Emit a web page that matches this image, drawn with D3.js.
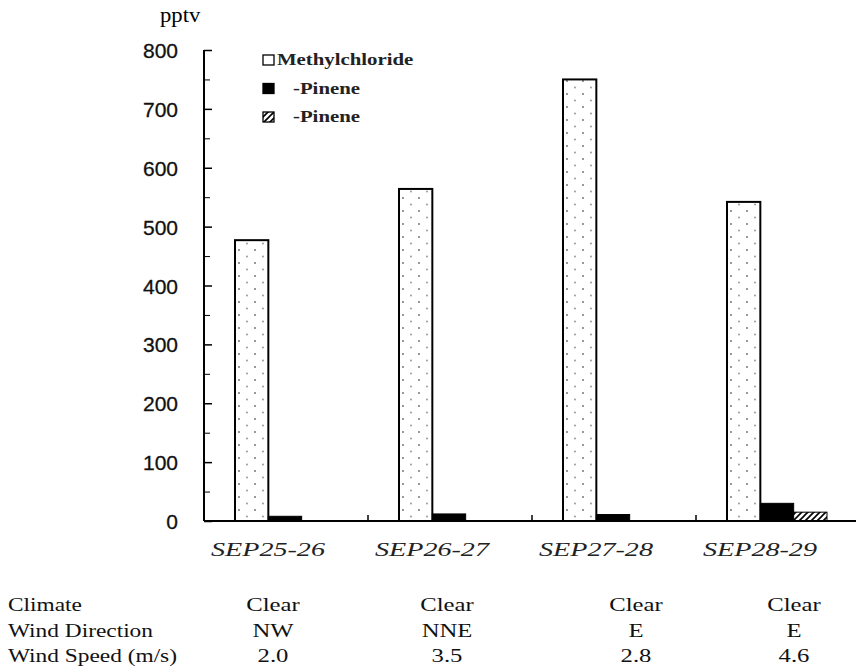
<!DOCTYPE html>
<html>
<head>
<meta charset="utf-8">
<script src="https://cdn.jsdelivr.net/npm/d3@7"></script>
<style>
  body { margin: 0; background: #fff; }
  svg { display: block; }
</style>
</head>
<body>
<div id="chart"></div>
<script>
  // categories and series
  var periods = ['SEP25-26', 'SEP26-27', 'SEP27-28', 'SEP28-29']
  var seriesNames = ['Methylchloride', '-Pinene', '-Pinene ']
  var methylchloride = [477, 564, 750, 542]
  var alphaPinene = [8, 12, 11, 30]
  var betaPinene = [0, 0, 0, 15]
  var yTicks = [0, 100, 200, 300, 400, 500, 600, 700, 800]

  var tableRows = ['Climate', 'Wind Direction', 'Wind Speed (m/s)']
  var climate = ['Clear', 'Clear', 'Clear', 'Clear']
  var windDir = ['NW', 'NNE', 'E', 'E']
  var windSpeed = ['2.0', '3.5', '2.8', '4.6']

  var serif = "'Liberation Serif'"
  var sans = "'Liberation Sans'"

  var width = 856
  var height = 669
  var margin = { top: 50, left: 204, bottom: 148 }

  var svg = d3.select('#chart').append('svg')
              .attr('width', width)
              .attr('height', height)

  // the scanned text is stretched sideways, so scale it in x
  function stretched (sel, x, y, sx) {
    return sel.attr('transform', function (d, i) {
      var xx = typeof x === 'function' ? x(d, i) : x
      var yy = typeof y === 'function' ? y(d, i) : y
      return 'translate(' + xx + ',' + yy + ') scale(' + sx + ',1)'
    })
  }

  var defs = svg.append('defs')
  var dots = defs.append('pattern')
                 .attr('id', 'dots')
                 .attr('patternUnits', 'userSpaceOnUse')
                 .attr('width', 16).attr('height', 13)
  dots.append('rect').attr('width', 16).attr('height', 13).attr('fill', '#fff')
  dots.append('circle').attr('cx', 3).attr('cy', 3).attr('r', 1).attr('fill', '#777')
  dots.append('circle').attr('cx', 11).attr('cy', 9.5).attr('r', 1).attr('fill', '#999')

  var hatch = defs.append('pattern')
                  .attr('id', 'hatch')
                  .attr('patternUnits', 'userSpaceOnUse')
                  .attr('width', 6).attr('height', 6)
  hatch.append('rect').attr('width', 6).attr('height', 6).attr('fill', '#fff')
  hatch.append('path').attr('d', 'M0,6 L6,0 M-1,1 L1,-1 M5,7 L7,5')
       .attr('stroke', '#000').attr('stroke-width', 1.6)

  var fills = ['url(#dots)', '#000', 'url(#hatch)']

  var yScale = d3.scaleLinear().domain([0, 800]).range([height - margin.bottom, margin.top])
  var x0 = d3.scaleBand().domain(periods).range([margin.left, 860])
  var x1 = d3.scaleBand().domain(seriesNames).range([31, 131])

  var data = periods.map(function (p, i) {
    return { period: p, values: [methylchloride[i], alphaPinene[i], betaPinene[i]] }
  })

  // bars
  var groups = svg.append('g').classed('bars', true).selectAll('g')
                  .data(data)
                  .enter()
                  .append('g')
                  .attr('transform', function (d) { return 'translate(' + x0(d.period) + ',0)' })

  groups.selectAll('rect')
        .data(function (d) { return d.values.map(function (v, j) { return { key: seriesNames[j], value: v, j: j } }) })
        .enter()
        .append('rect')
        .attr('x', function (d) { return x1(d.key) })
        .attr('width', x1.bandwidth())
        .attr('y', function (d) { return yScale(d.value) })
        .attr('height', function (d) { return yScale(0) - yScale(d.value) })
        .attr('fill', function (d) { return fills[d.j] })
        .attr('stroke', function (d) { return d.value > 0 ? '#000' : 'none' })
        .attr('stroke-width', function (d) { return d.j === 0 ? 2 : 1 })

  // y axis with inward ticks
  var yAxis = d3.axisRight(yScale).tickValues(yTicks).tickSize(8).tickFormat('')
  var yMinor = d3.axisRight(yScale).tickValues(d3.range(50, 800, 100)).tickSize(6).tickFormat('')
  svg.append('g').attr('transform', 'translate(' + margin.left + ',0)').call(yAxis)
     .call(function (g) { g.select('.domain').attr('d', 'M0,' + yScale(800) + 'V' + yScale(0)).attr('stroke-width', 2) })
     .selectAll('.tick line').attr('stroke-width', 1.5)
  svg.append('g').attr('transform', 'translate(' + margin.left + ',0)').call(yMinor)
     .call(function (g) { g.select('.domain').remove() })

  svg.append('g').selectAll('text')
     .data(yTicks)
     .enter()
     .append('text')
     .attr('x', 178)
     .attr('y', function (d) { return yScale(d) + 8 })
     .attr('text-anchor', 'end')
     .style('font-family', sans)
     .attr('font-size', 21)
     .attr('fill', '#111')
     .attr('stroke', '#111')
     .attr('stroke-width', 0.3)
     .text(function (d) { return d })

  stretched(svg.append('text'), 160, 22, 1.08)
     .style('font-family', serif)
     .attr('font-size', 21)
     .text('pptv')

  // x axis
  var xAxis = d3.axisTop(x0).tickSize(0).tickFormat('')
  svg.append('g').attr('transform', 'translate(0,' + yScale(0) + ')').call(xAxis)
     .call(function (g) { g.select('.domain').attr('d', 'M' + margin.left + ',0H856').attr('stroke-width', 2) })
  svg.append('g').selectAll('line')
     .data(periods.slice(1))
     .enter()
     .append('line')
     .attr('x1', function (d) { return x0(d) })
     .attr('x2', function (d) { return x0(d) })
     .attr('y1', yScale(0))
     .attr('y2', yScale(0) - 6)
     .attr('stroke', '#000')
     .attr('stroke-width', 1.5)

  stretched(svg.append('g').selectAll('text')
     .data(periods)
     .enter()
     .append('text'), function (d) { return x0(d) + 64 }, 556, 1.48)
     .attr('text-anchor', 'middle')
     .style('font-family', serif)
     .style('font-style', 'italic')
     .attr('font-size', 19)
     .attr('fill', '#222')
     .text(function (d) { return d })

  // legend
  var legend = svg.append('g').attr('transform', 'translate(263,60)')
  var legendFills = ['#fff', '#000', 'url(#hatch)']
  var legendRows = legend.selectAll('g')
                         .data(seriesNames)
                         .enter()
                         .append('g')
                         .attr('transform', function (d, i) { return 'translate(0,' + (i * 28.5) + ')' })
  legendRows.append('rect')
            .attr('x', 0).attr('y', -5)
            .attr('width', 11).attr('height', 10)
            .attr('fill', function (d, i) { return legendFills[i] })
            .attr('stroke', '#000')
            .attr('stroke-width', 1.3)
  stretched(legendRows.append('text'), function (d, i) { return i === 0 ? 14 : 30 }, 5, 1.3)
            .style('font-family', serif)
            .style('font-weight', 'bold')
            .attr('font-size', 16)
            .attr('fill', '#222')
            .text(function (d) { return d.trim() })

  // bottom table
  var colX = [273, 447, 636, 794]
  var rowY = [611, 637, 662]
  var table = svg.append('g')
                 .attr('font-size', 19)
                 .attr('fill', '#111')
  stretched(table.selectAll('text.rowname')
       .data(tableRows)
       .enter()
       .append('text')
       .classed('rowname', true), 8, function (d, i) { return rowY[i] }, 1.23)
       .style('font-family', serif)
       .text(function (d) { return d })

  ;[climate, windDir, windSpeed].forEach(function (row, r) {
    stretched(table.append('g').selectAll('text')
         .data(row)
         .enter()
         .append('text'), function (d, i) { return colX[i] }, rowY[r], 1.3)
         .attr('text-anchor', 'middle')
         .style('font-family', serif)
         .text(function (d) { return d })
  })
</script>
</body>
</html>
